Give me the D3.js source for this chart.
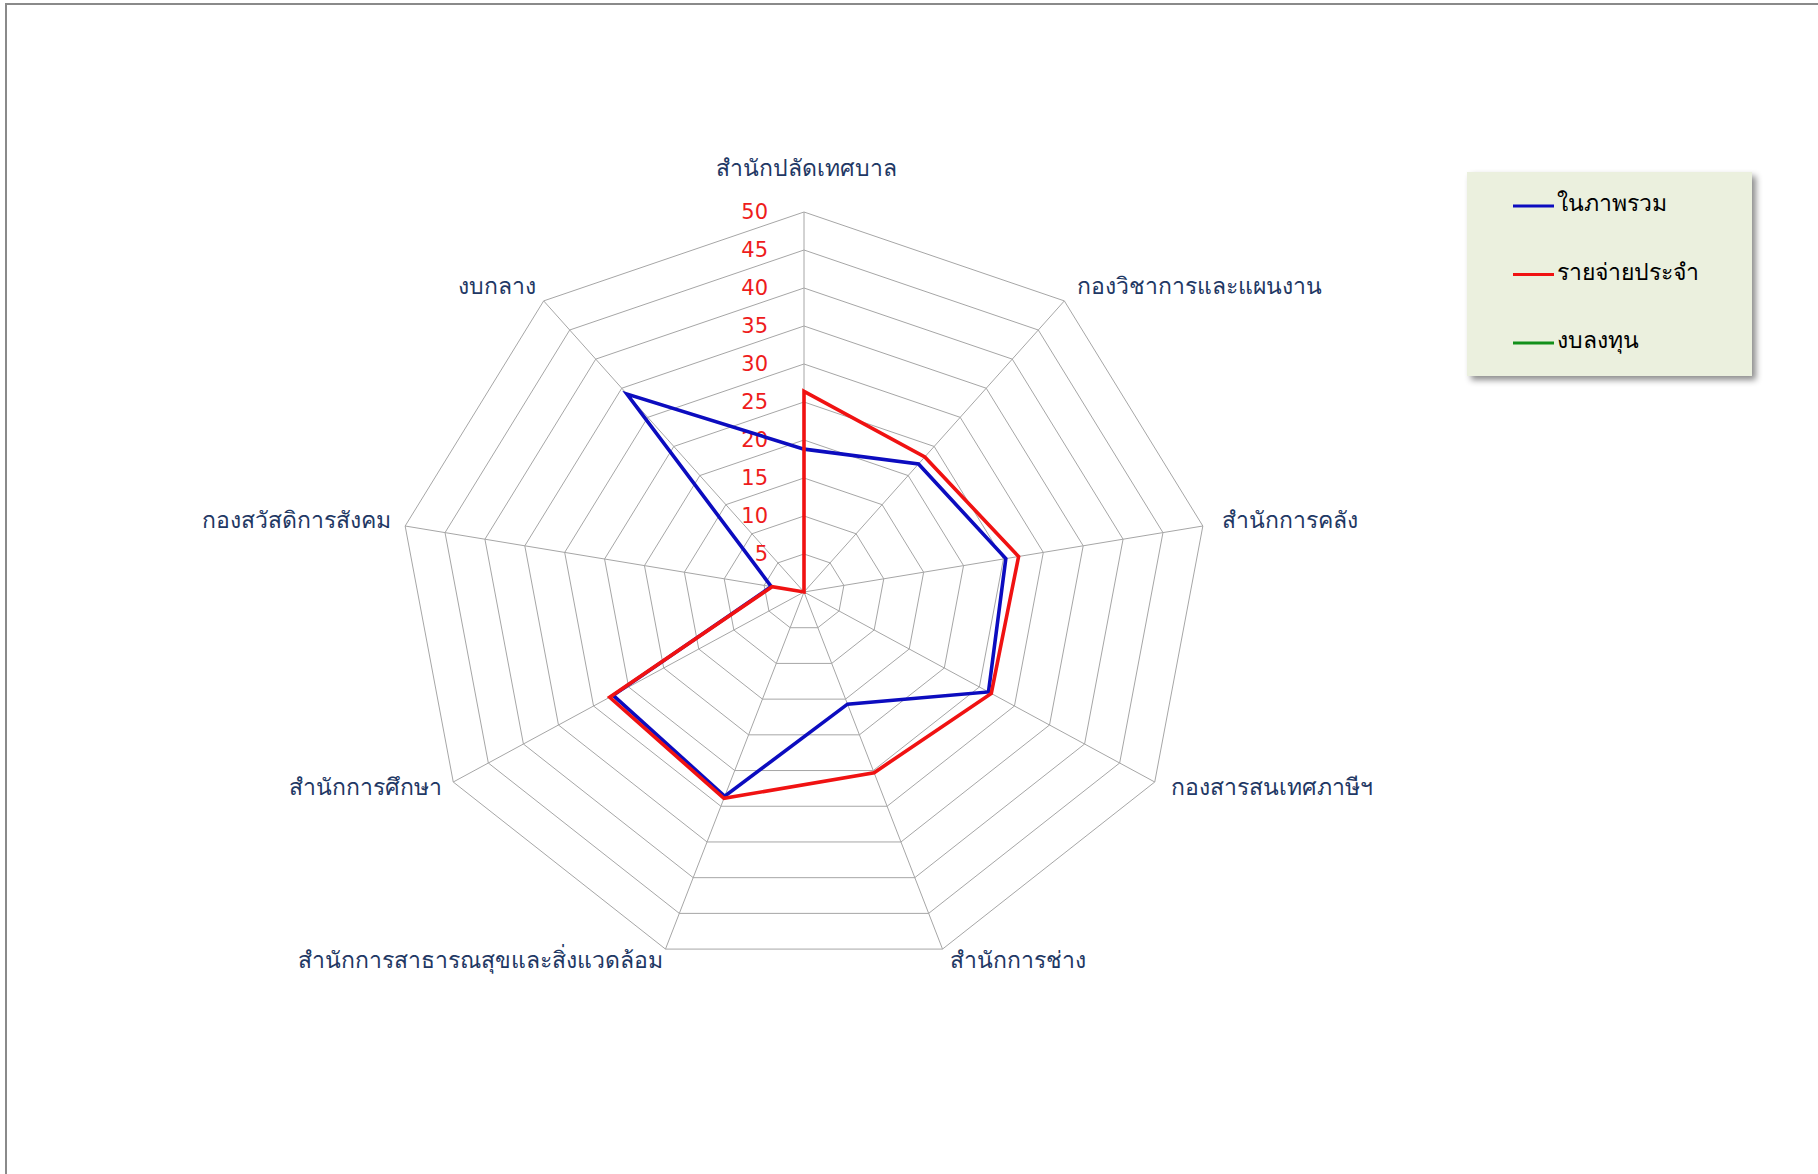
<!DOCTYPE html>
<html>
<head>
<meta charset="utf-8">
<script src="https://cdnjs.cloudflare.com/ajax/libs/d3/7.8.5/d3.min.js"></script>
<style>
  body { margin: 0; background: #fff; }
  #viz { width: 1818px; height: 1174px; }
  text { font-family: Tahoma, "DejaVu Sans", "Noto Sans", sans-serif; }
</style>
</head>
<body>
<div id="viz"></div>
<script>
// categories, clockwise from the top
var categories = [
  'สำนักปลัดเทศบาล',
  'กองวิชาการและแผนงาน',
  'สำนักการคลัง',
  'กองสารสนเทศภาษีฯ',
  'สำนักการช่าง',
  'สำนักการสาธารณสุขและสิ่งแวดล้อม',
  'สำนักการศึกษา',
  'กองสวัสดิการสังคม',
  'งบกลาง'
];
var series_names = ['ในภาพรวม', 'รายจ่ายประจำ', 'งบลงทุน'];
var overall    = [18.8, 22.0, 25.3, 26.3, 15.7, 28.6, 27.2, 4.1, 34.0];
var recurrent  = [26.4, 23.2, 26.9, 26.7, 25.3, 28.9, 27.7, 4.0, 0];
var investment = [0, 0, 0, 0, 0, 0, 0, 0, 0];
var tick_values = [5, 10, 15, 20, 25, 30, 35, 40, 45, 50];

var series_colors = ['#0c0cbf', '#f01212', '#12901a'];

var width = 1818, height = 1174;
var cx = 804, cy = 592;
var x_stretch = 405 / 380;

var svg = d3.select('#viz').append('svg')
    .attr('width', width)
    .attr('height', height);

// outer frame (only top/left visible)
svg.append('rect')
    .attr('x', 6).attr('y', 4)
    .attr('width', width + 20).attr('height', height + 20)
    .attr('fill', 'none')
    .attr('stroke', '#8a8a8a')
    .attr('stroke-width', 2);

var r = d3.scaleLinear().domain([0, 50]).range([0, 380]);
var angle = d3.scaleLinear().domain([0, categories.length]).range([0, 2 * Math.PI]);

function px(i, v) { return cx + r(v) * x_stretch * Math.sin(angle(i)); }
function py(i, v) { return cy - r(v) * Math.cos(angle(i)); }

var idx = d3.range(categories.length);

// grid rings
var ring = d3.line().curve(d3.curveLinearClosed);
svg.append('g').selectAll('path')
    .data(tick_values)
    .enter().append('path')
    .attr('d', function(t) {
      return ring(idx.map(function(i) { return [px(i, t), py(i, t)]; }));
    })
    .attr('fill', 'none')
    .attr('stroke', '#a6a6a6')
    .attr('stroke-width', 1);

// spokes
svg.append('g').selectAll('line')
    .data(idx)
    .enter().append('line')
    .attr('x1', cx).attr('y1', cy)
    .attr('x2', function(i) { return px(i, 50); })
    .attr('y2', function(i) { return py(i, 50); })
    .attr('stroke', '#a6a6a6')
    .attr('stroke-width', 1);

// tick labels
svg.append('g').selectAll('text')
    .data(tick_values)
    .enter().append('text')
    .attr('x', cx - 36)
    .attr('y', function(t) { return cy - r(t); })
    .attr('text-anchor', 'end')
    .attr('dominant-baseline', 'central')
    .attr('fill', '#ee1c1c')
    .style('font-size', '21px')
    .text(function(t) { return t; });

// category labels
svg.append('g').selectAll('text')
    .data(idx)
    .enter().append('text')
    .attr('x', function(i) {
      var s = Math.sin(angle(i));
      if (Math.abs(s) < 0.1) return px(i, 50) + 2;
      if (s > 0) return px(i, 50) + 18 * s + 1;
      return px(i, 50) - (18 * Math.abs(s) - 4);
    })
    .attr('y', function(i) {
      var c = Math.cos(angle(i));
      if (Math.abs(Math.sin(angle(i))) < 0.1) return py(i, 50) - 44;
      return py(i, 50) - 15 * c - 3;
    })
    .attr('text-anchor', function(i) {
      var s = Math.sin(angle(i));
      if (Math.abs(s) < 0.1) return 'middle';
      return s > 0 ? 'start' : 'end';
    })
    .attr('dominant-baseline', 'central')
    .attr('fill', '#1f3864')
    .style('font-size', '23px')
    .text(function(i) { return categories[i]; });

// series lines
var all_series = [overall, recurrent, investment];
var valueline = d3.line().curve(d3.curveLinearClosed);
svg.append('g').selectAll('path')
    .data(all_series)
    .enter().append('path')
    .attr('d', function(s) {
      return valueline(s.map(function(v, i) { return [px(i, v), py(i, v)]; }));
    })
    .attr('fill', 'none')
    .attr('stroke', function(s, k) { return series_colors[k]; })
    .attr('stroke-width', 3.6)
    .attr('stroke-linejoin', 'miter');

// legend
var defs = svg.append('defs');
var shadow = defs.append('filter').attr('id', 'shadow')
    .attr('x', '-10%').attr('y', '-10%').attr('width', '130%').attr('height', '130%');
shadow.append('feDropShadow')
    .attr('dx', 4).attr('dy', 4)
    .attr('stdDeviation', 3)
    .attr('flood-color', '#000')
    .attr('flood-opacity', 0.45);

var legend = svg.append('g').attr('transform', 'translate(1467,172)');
legend.append('rect')
    .attr('width', 285)
    .attr('height', 204)
    .attr('fill', '#ebf0de')
    .attr('filter', 'url(#shadow)');

var items = legend.selectAll('g.item')
    .data(series_names)
    .enter().append('g')
    .attr('class', 'item')
    .attr('transform', function(d, k) { return 'translate(0,' + (34 + k * 68.5) + ')'; });
items.append('line')
    .attr('x1', 46).attr('x2', 87)
    .attr('stroke', function(d, k) { return series_colors[k]; })
    .attr('stroke-width', 3.2);
items.append('text')
    .attr('x', 90)
    .attr('y', -3)
    .attr('dominant-baseline', 'central')
    .attr('fill', '#000')
    .style('font-size', '23px')
    .text(function(d) { return d; });
</script>
</body>
</html>
